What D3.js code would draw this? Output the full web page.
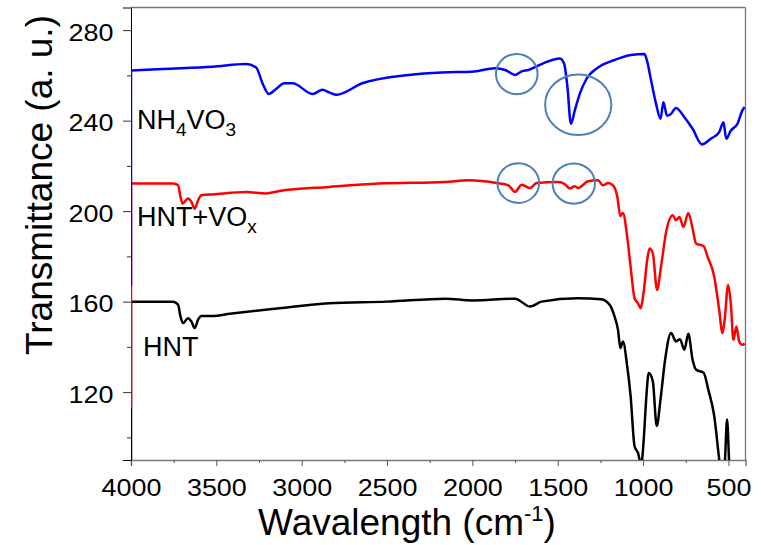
<!DOCTYPE html>
<html>
<head>
<meta charset="utf-8">
<script src="https://cdn.jsdelivr.net/npm/d3@7"></script>
<style>
body { margin: 0; background: #fff; }
text { font-family: "Liberation Sans", Arial, sans-serif; }
</style>
</head>
<body>
<svg width="761" height="545"></svg>
<script>
// tick values
var xTicks = [4000, 3500, 3000, 2500, 2000, 1500, 1000, 500]
var xMinor = [3750, 3250, 2750, 2250, 1750, 1250, 750]
var yTicks = [120, 160, 200, 240, 280]
var yMinor = [100, 140, 180, 220, 260]

// HNT (black)
var hntWave = [4000, 4000, 3753, 3724, 3710, 3695, 3666, 3646, 3627, 3607, 3588, 3520, 3422, 3131, 2839, 2500, 2158, 2000, 1750, 1662, 1595, 1381, 1245, 1196, 1167, 1147, 1133, 1118, 1093, 1073, 1050, 1030, 1011, 995, 982, 967, 943, 920, 898, 871, 836, 807, 784, 758, 735, 710, 690, 645, 618, 583, 554, 540, 522, 508, 495, 486, 450, 405]
var hntVal = [80, 160, 160, 158.6, 153.4, 150.5, 152.7, 151.2, 148.3, 152, 153.7, 153.7, 154.6, 157.1, 159.3, 160, 161.3, 160.5, 161.3, 157.8, 160, 161.5, 161.1, 158.6, 153.4, 147.5, 139.5, 142.4, 131.4, 118.2, 96.1, 93.2, 88, 100.5, 116.7, 128.5, 124.8, 105, 116.7, 134.3, 146.1, 142.4, 143.4, 138.7, 145.8, 134.3, 130, 128.5, 121.1, 109.4, 90.3, 82, 88, 107.9, 88, 80, 75, 75]

// HNT+VOx (red)
var voxWave = [4000, 4000, 3753, 3724, 3710, 3698, 3666, 3646, 3627, 3607, 3588, 3520, 3325, 3208, 3131, 2839, 2547, 2158, 2022, 1857, 1789, 1750, 1711, 1662, 1624, 1497, 1458, 1429, 1400, 1381, 1322, 1264, 1235, 1206, 1176, 1151, 1133, 1118, 1093, 1073, 1050, 1030, 1015, 995, 976, 962, 943, 918, 895, 865, 826, 807, 787, 764, 735, 710, 690, 645, 622, 583, 554, 535, 522, 502, 486, 471, 453, 437, 418, 405]
var voxVal = [113, 212.2, 212.2, 211.4, 206.3, 203.4, 205.6, 204.1, 201.1, 204.8, 207, 207.4, 208.5, 207.8, 208.9, 210.7, 212.2, 212.9, 213.6, 212.4, 211.4, 208.5, 211.7, 210.2, 212.4, 212.9, 211.9, 210, 211, 210.2, 213.2, 213.6, 211.4, 212.4, 211.4, 206.3, 197.8, 199.2, 188.6, 175.4, 161.5, 159.3, 157.1, 165.2, 178.4, 183.5, 181.3, 165.2, 175.4, 190.8, 198.2, 196, 197.4, 193, 199.2, 192.3, 185.7, 184.5, 179.8, 171, 156.3, 146.1, 152, 167.4, 159.3, 143.1, 149, 142.4, 140.9, 141.5]

// NH4VO3 (blue)
var nhWave = [4000, 4000, 3813, 3522, 3325, 3267, 3228, 3193, 3150, 3102, 3053, 2936, 2878, 2839, 2796, 2645, 2372, 2178, 2003, 1867, 1808, 1750, 1711, 1672, 1595, 1487, 1462, 1443, 1423, 1400, 1371, 1332, 1264, 1167, 1070, 992, 977, 953, 924, 898, 881, 860, 840, 807, 758, 710, 655, 603, 554, 529, 513, 486, 447, 418, 405]
var nhVal = [167, 262.1, 262.8, 263.8, 265, 263.5, 256.2, 251.8, 254, 256.5, 256.5, 251.8, 253.6, 252.5, 251.4, 256.5, 260.2, 261.3, 261.6, 263.1, 262.4, 260.2, 261.8, 262.4, 265, 267.5, 265, 254.7, 238.6, 244.5, 251.8, 258.4, 263.5, 266.8, 269, 269.4, 266.5, 257.7, 247.4, 240.8, 248.1, 242.2, 242.7, 245.6, 241.5, 236.4, 229.5, 232, 234.9, 239.3, 232, 235.6, 238.6, 244.5, 246]

// highlighted bands: centre wavenumber, centre value, half widths
var markWave = [1740, 1380, 1731, 1406]
var markVal = [260.6, 247, 212.4, 212.2]
var markRw = [122, 194, 122, 124]
var markRv = [8.9, 13.4, 8.8, 8.9]

var svg = d3.select("svg")
var pLeft = 131, pRight = 745.5, pTop = 7.5, pBottom = 460

var x = d3.scaleLinear().domain([4000, 400]).range([pLeft, pRight])
var y = d3.scaleLinear().domain([90, 290]).range([pBottom, pTop])

svg.append("clipPath").attr("id", "clip")
    .append("rect").attr("x", pLeft).attr("y", pTop)
    .attr("width", pRight - pLeft).attr("height", pBottom - pTop)

// frame
svg.append("line").attr("x1", pLeft).attr("x2", pRight).attr("y1", pTop).attr("y2", pTop)
    .attr("stroke", "#777").attr("stroke-width", 1.3)
svg.append("line").attr("x1", pRight).attr("x2", pRight).attr("y1", pTop).attr("y2", pBottom)
    .attr("stroke", "#777").attr("stroke-width", 1.3)

// x axis
var xAxis = svg.append("g").attr("transform", "translate(0," + pBottom + ")")
    .call(d3.axisBottom(x).tickValues(xTicks).tickSize(6).tickPadding(14).tickFormat(d3.format("d")))
xAxis.select(".domain").attr("stroke", "#777").attr("stroke-width", 1.5)
xAxis.selectAll(".tick line").attr("stroke", "#555").attr("stroke-width", 1)
xAxis.selectAll(".tick text").attr("font-size", 23).attr("fill", "#000")
    .attr("transform", "scale(1.17,1)")
    .style("font-family", "'Liberation Sans', Arial, sans-serif")
var xMin = svg.append("g").attr("transform", "translate(0," + pBottom + ")")
    .call(d3.axisBottom(x).tickValues(xMinor).tickSize(3).tickFormat(""))
xMin.select(".domain").remove()
xMin.selectAll(".tick line").attr("stroke", "#555")

// y axis
var yAxis = svg.append("g").attr("transform", "translate(" + pLeft + ",0)")
    .call(d3.axisLeft(y).tickValues(yTicks).tickSize(8).tickPadding(7))
yAxis.select(".domain").attr("stroke", "#000").attr("stroke-width", 1)
yAxis.selectAll(".tick line").attr("stroke", "#333")
yAxis.selectAll(".tick text").attr("font-size", 23).attr("fill", "#000")
    .attr("dy", "0.44em")
    .attr("transform", "scale(1.17,1)")
    .style("font-family", "'Liberation Sans', Arial, sans-serif")
var yMin = svg.append("g").attr("transform", "translate(" + pLeft + ",0)")
    .call(d3.axisLeft(y).tickValues(yMinor).tickSize(4).tickFormat(""))
yMin.select(".domain").remove()
yMin.selectAll(".tick line").attr("stroke", "#333")

// spectra: first point is the drop at 4000, drawn straight; rest smooth
var line = d3.line().x(d => x(d[0])).y(d => y(d[1]))
var smooth = d3.line().x(d => x(d[0])).y(d => y(d[1])).curve(d3.curveMonotoneX)
var plot = svg.append("g").attr("clip-path", "url(#clip)")
var series = [
    [hntWave, hntVal, "#000000"],
    [voxWave, voxVal, "#ff0000"],
    [nhWave, nhVal, "#0000ff"]
]
series.forEach(s => {
    var pts = s[0].map((w, i) => [w, s[1][i]])
    var g = plot.append("g")
        .attr("fill", "none")
        .attr("stroke", s[2])
        .attr("stroke-width", 2.5)
        .attr("stroke-linejoin", "round")
    g.append("path").attr("d", line(pts.slice(0, 2)))
    g.append("path").attr("d", smooth(pts.slice(1).reverse()))
})

// circles around bands
markWave.forEach((w, i) => {
    svg.append("ellipse")
        .attr("cx", x(w)).attr("cy", y(markVal[i]))
        .attr("rx", x(w - markRw[i]) - x(w))
        .attr("ry", y(markVal[i] - markRv[i]) - y(markVal[i]))
        .attr("fill", "none")
        .attr("stroke", "#4f7fb8")
        .attr("stroke-width", 2)
})

// sample labels
function label(xp, yp, parts) {
    var t = svg.append("text").attr("x", xp).attr("y", yp).attr("font-size", 27).attr("fill", "#000")
    parts.forEach(p => {
        if (p[1]) {
            t.append("tspan").text(p[0]).attr("font-size", 19).attr("dy", 7)
        } else {
            t.append("tspan").text(p[0]).attr("dy", p[2] || 0)
        }
    })
}
label(137, 129, [["NH"], ["4", true], ["VO", false, -7], ["3", true]])
label(137, 226, [["HNT+VO"], ["x", true]])
label(143, 356, [["HNT"]])

// axis titles
var xt = svg.append("text").attr("x", 407).attr("y", 535)
    .attr("text-anchor", "middle").attr("font-size", 37).attr("fill", "#000")
xt.append("tspan").text("Wavalength (cm")
xt.append("tspan").text("-1").attr("font-size", 22).attr("dy", -14)
xt.append("tspan").text(")").attr("dy", 14)

svg.append("text")
    .attr("transform", "translate(52,185) rotate(-90)")
    .attr("text-anchor", "middle").attr("font-size", 37).attr("fill", "#000")
    .text("Transmittance (a. u.)")
</script>
</body>
</html>
